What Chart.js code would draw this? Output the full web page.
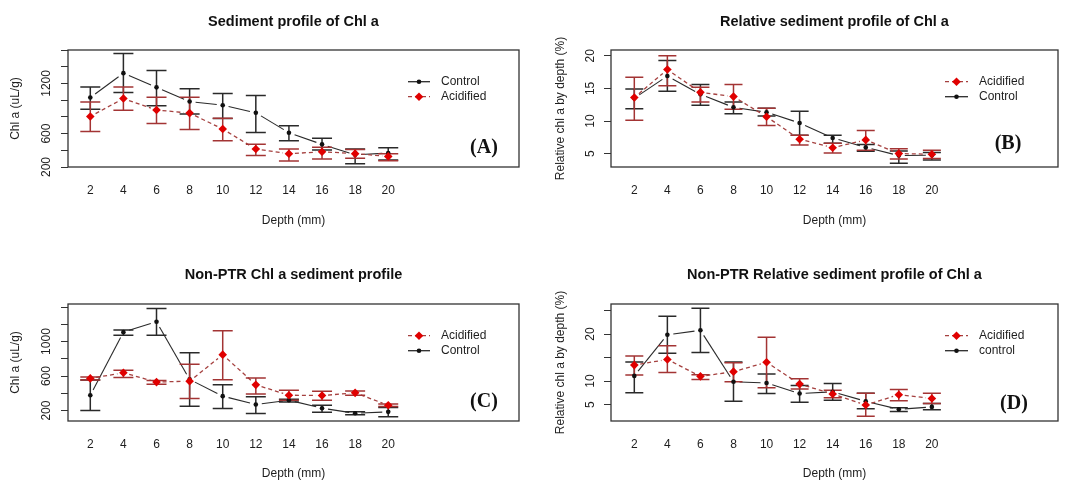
<!DOCTYPE html>
<html><head><meta charset="utf-8">
<script src="https://cdn.jsdelivr.net/npm/chart.js@4.4.1/dist/chart.umd.min.js"></script>
<style>
html,body{margin:0;padding:0;background:#fff;}
#wrap{position:relative;width:1067px;height:481px;overflow:hidden;background:#fff;}
canvas{position:absolute;}
</style></head><body>
<div id="wrap">
<canvas id="cA" width="533" height="240" style="left:0;top:0"></canvas>
<canvas id="cB" width="534" height="240" style="left:533px;top:0"></canvas>
<canvas id="cC" width="533" height="241" style="left:0;top:240px"></canvas>
<canvas id="cD" width="534" height="241" style="left:533px;top:240px"></canvas>
</div>
<script>
// ---------- data ----------
const depth = [2, 4, 6, 8, 10, 12, 14, 16, 18, 20];
const xTicks = [2, 4, 6, 8, 10, 12, 14, 16, 18, 20];

// (A) Sediment profile of Chl a
const ctrlA    = [1031, 1323, 1153, 983, 939, 849, 610, 471, 346, 367];
const ctrlA_hi = [1158, 1559, 1356, 1137, 1080, 1056, 695, 544, 415, 431];
const ctrlA_lo = [890, 1092, 934, 833, 780, 614, 513, 403, 240, 285];
const acidA    = [805, 1019, 882, 845, 654, 415, 358, 383, 360, 327];
const acidA_hi = [979, 1158, 1036, 1036, 784, 471, 415, 435, 410, 360];
const acidA_lo = [626, 878, 720, 650, 513, 338, 273, 297, 305, 275];
const yTicksA  = [200, 400, 600, 800, 1000, 1200, 1400, 1600];
const yLabelsA = [200, 600, 1200];

// (B) Relative sediment profile of Chl a
const ctrlB    = [13.5, 16.9, 14.1, 12.1, 11.35, 9.7, 7.4, 5.95, 4.7, 4.75];
const ctrlB_hi = [14.9, 19.3, 15.6, 12.9, 11.95, 11.5, 7.8, 6.4, 5.4, 5.15];
const ctrlB_lo = [11.9, 14.55, 12.4, 11.1, 10.75, 7.8, 6.6, 5.35, 3.5, 4.0];
const acidB    = [13.6, 17.9, 14.4, 13.75, 10.65, 7.2, 5.9, 7.1, 5.0, 4.9];
const acidB_hi = [16.7, 20.0, 15.2, 15.6, 11.95, 7.8, 6.6, 8.55, 5.75, 5.5];
const acidB_lo = [10.1, 15.4, 12.9, 11.8, 9.3, 6.3, 5.1, 5.5, 4.15, 4.25];
const yTicksB  = [5, 10, 15, 20];
const yLabelsB = [5, 10, 15, 20];

// (C) Non-PTR Chl a sediment profile
const ctrlC    = [378, 1109, 1229, 561, 367, 270, 320, 227, 169, 185];
const ctrlC_hi = [553, 1135, 1384, 871, 498, 359, 332, 262, 185, 235];
const ctrlC_lo = [200, 1074, 1074, 250, 223, 165, 300, 181, 150, 127];
const acidC    = [573, 638, 530, 541, 848, 498, 378, 374, 405, 262];
const acidC_hi = [588, 666, 549, 736, 1124, 576, 436, 424, 428, 277];
const acidC_lo = [553, 584, 506, 340, 556, 393, 320, 320, 378, 246];
const yTicksC  = [200, 400, 600, 800, 1000, 1200, 1400];
const yLabelsC = [200, 600, 1000];

// (D) Non-PTR Relative sediment profile of Chl a
const ctrlD    = [11.1, 19.85, 20.8, 9.85, 9.6, 7.35, 7.7, 5.7, 4.0, 4.5];
const ctrlD_hi = [14.05, 23.8, 25.5, 14.05, 11.5, 9.05, 9.5, 7.4, 4.3, 5.2];
const ctrlD_lo = [7.5, 15.9, 16.1, 5.7, 7.35, 5.5, 5.9, 4.1, 3.5, 3.9];
const acidD    = [13.4, 14.6, 11.0, 12.0, 14.0, 9.35, 7.25, 4.9, 7.1, 6.3];
const acidD_hi = [15.35, 17.5, 11.35, 13.9, 19.3, 10.5, 8.05, 7.4, 8.2, 7.4];
const acidD_lo = [11.3, 11.8, 10.35, 9.85, 8.6, 8.3, 6.45, 2.5, 5.8, 5.2];
const yTicksD  = [5, 10, 15, 20, 25];
const yLabelsD = [5, 10, 20];

// ---------- styles ----------
const FONT = "'Liberation Sans', Arial, sans-serif";
const TXT = '#1e1e1e';
const STY = {
  ctrl: {lineColor: '#2a2a2a', dash: [], barColor: '#2a2a2a', point: '#111111', pstyle: 'circle', prad: 2.3, lw: 1.1},
  acid: {lineColor: '#a5403f', dash: [4, 3], barColor: '#a33434', point: '#e00000', pstyle: 'rectRot', prad: 4.3, lw: 1.3}
};

const rdeco = {
  id: 'rdeco',
  beforeDatasetsDraw(chart, args, o) {
    const ctx = chart.ctx, ys = chart.scales.y, xs = chart.scales.x;
    ctx.save();
    o.series.forEach((s, si) => {
      const st = STY[s.kind];
      const meta = chart.getDatasetMeta(si);
      // type "b" lines (gaps around points)
      ctx.strokeStyle = st.lineColor; ctx.lineWidth = st.lw; ctx.setLineDash(st.dash);
      for (let i = 0; i < meta.data.length - 1; i++) {
        const p = meta.data[i], q = meta.data[i + 1];
        const dx = q.x - p.x, dy = q.y - p.y, len = Math.hypot(dx, dy);
        if (len < 2 * o.gap + 1) continue;
        const ux = dx / len, uy = dy / len;
        ctx.beginPath();
        ctx.moveTo(p.x + ux * o.gap, p.y + uy * o.gap);
        ctx.lineTo(q.x - ux * o.gap, q.y - uy * o.gap);
        ctx.stroke();
      }
      ctx.setLineDash([]);
      // error bars
      ctx.strokeStyle = st.barColor; ctx.lineWidth = 1.5;
      depth.forEach((d, i) => {
        const x = xs.getPixelForValue(d);
        const yh = ys.getPixelForValue(s.hi[i]), yl = ys.getPixelForValue(s.lo[i]);
        ctx.beginPath();
        ctx.moveTo(x, yh); ctx.lineTo(x, yl);
        ctx.moveTo(x - o.cap, yh); ctx.lineTo(x + o.cap, yh);
        ctx.moveTo(x - o.cap, yl); ctx.lineTo(x + o.cap, yl);
        ctx.stroke();
      });
    });
    ctx.restore();
  },
  afterDraw(chart, args, o) {
    const ctx = chart.ctx, a = chart.chartArea;
    ctx.save();
    // box
    ctx.strokeStyle = '#333'; ctx.lineWidth = 1.3;
    ctx.strokeRect(a.left, a.top, a.right - a.left, a.bottom - a.top);
    // legend
    o.legend.forEach((li, k) => {
      const st = STY[li.kind];
      const y = a.top + o.legY0 + k * o.legDy;
      ctx.strokeStyle = st.lineColor; ctx.lineWidth = 1.3; ctx.setLineDash(st.dash);
      ctx.beginPath(); ctx.moveTo(o.legX1, y); ctx.lineTo(o.legX2, y); ctx.stroke();
      ctx.setLineDash([]);
      const cx = (o.legX1 + o.legX2) / 2;
      ctx.fillStyle = st.point;
      ctx.beginPath();
      if (st.pstyle === 'circle') { ctx.arc(cx, y, st.prad, 0, Math.PI * 2); }
      else { const r = st.prad; ctx.moveTo(cx, y - r); ctx.lineTo(cx + r, y); ctx.lineTo(cx, y + r); ctx.lineTo(cx - r, y); ctx.closePath(); }
      ctx.fill();
      ctx.fillStyle = TXT; ctx.font = '12px ' + FONT; ctx.textAlign = 'left'; ctx.textBaseline = 'middle';
      ctx.fillText(li.label, o.legTx, y);
    });
    // panel label
    ctx.fillStyle = '#111'; ctx.font = "bold 20px 'Liberation Serif', 'Times New Roman', serif";
    ctx.textAlign = 'center'; ctx.textBaseline = 'middle';
    ctx.fillText(o.tag, o.tagX, a.top + o.tagY);
    ctx.restore();
  }
};

function makePanel(id, p) {
  const datasets = p.series.map(s => ({
    label: s.label,
    data: depth.map((d, i) => ({x: d, y: s.mean[i]})),
    showLine: false,
    pointStyle: STY[s.kind].pstyle,
    pointRadius: STY[s.kind].prad,
    pointBackgroundColor: STY[s.kind].point,
    pointBorderColor: STY[s.kind].point,
    pointBorderWidth: 0,
    borderColor: STY[s.kind].lineColor,
    order: s.kind === 'acid' ? 0 : 1
  }));
  const g = p.geo;
  new Chart(document.getElementById(id), {
    type: 'line',
    data: {datasets},
    plugins: [rdeco],
    options: {
      responsive: false, animation: false, devicePixelRatio: 1,
      layout: {padding: {left: 0, top: 0, right: g.padR, bottom: 0}},
      plugins: {
        legend: {display: false}, tooltip: {enabled: false},
        title: {display: true, text: p.title, fullSize: false, color: '#111',
          font: {family: FONT, size: 14.5, weight: 'bold', lineHeight: 1.2},
          padding: {top: g.tTop, bottom: g.tBot}},
        rdeco: {series: p.series, legend: p.legend, gap: 6, cap: g.cap,
          legX1: g.legX1, legX2: g.legX2, legTx: g.legTx, legY0: 31.7, legDy: 15,
          tag: p.tag, tagX: g.tagX, tagY: g.tagY}
      },
      scales: {
        x: {
          type: 'linear', min: g.xMin, max: g.xMax,
          grid: {display: false, drawTicks: false}, border: {display: false},
          afterBuildTicks: s => { s.ticks = xTicks.map(v => ({value: v})); },
          ticks: {autoSkip: false, maxRotation: 0, padding: g.xPad, color: TXT, font: {family: FONT, size: 12}},
          title: {display: true, text: 'Depth (mm)', color: TXT, font: {family: FONT, size: 12},
            padding: {top: 0, bottom: g.xTitlePad}},
          afterFit: s => { s.height = g.xH; }
        },
        y: {
          type: 'linear', min: p.yMin, max: p.yMax,
          grid: {display: true, drawOnChartArea: false, drawTicks: true, tickLength: 7, color: '#333', lineWidth: 1},
          border: {display: false},
          afterBuildTicks: s => { s.ticks = p.yTicks.map(v => ({value: v})); },
          ticks: {autoSkip: false, minRotation: 90, maxRotation: 90, crossAlign: 'center', padding: g.yPad,
            color: TXT, font: {family: FONT, size: 12},
            callback: v => p.yLabels.includes(v) ? String(v) : ''},
          title: {display: true, text: p.yTitle, color: TXT, font: {family: FONT, size: 12},
            padding: {top: g.yTitlePad, bottom: 0}},
          afterFit: s => { s.width = g.yW; }
        }
      }
    }
  });
}

const geoLeftTop  = {padR: 14, yW: 68, xH: 73, tTop: 13, tBot: 19.6, xPad: 16, xTitlePad: 12, yPad: 1.2, yTitlePad: 8,
  xMin: 0.653, xMax: 27.9, cap: 10, legX1: 408, legX2: 430, legTx: 441, tagX: 484, tagY: 98};
const geoRightTop = {padR: 9, yW: 78, xH: 73, tTop: 13, tBot: 19.6, xPad: 16, xTitlePad: 12, yPad: 6.3, yTitlePad: 20,
  xMin: 0.59, xMax: 27.63, cap: 9, legX1: 412, legX2: 435, legTx: 446, tagX: 475, tagY: 94};
const geoLeftBot  = Object.assign({}, geoLeftTop, {xH: 60, tTop: 26.3, tBot: 20.3, xPad: 16.5, xTitlePad: 0, tagY: 98});
const geoRightBot = Object.assign({}, geoRightTop, {xH: 60, tTop: 26.3, tBot: 20.3, xPad: 16.5, xTitlePad: 0, tagX: 481, tagY: 100});

makePanel('cA', {
  title: 'Sediment profile of Chl a', yTitle: 'Chl a (uL/g)', tag: '(A)',
  yMin: 200, yMax: 1600, yTicks: yTicksA, yLabels: yLabelsA, geo: geoLeftTop,
  series: [
    {label: 'Control', kind: 'ctrl', mean: ctrlA, hi: ctrlA_hi, lo: ctrlA_lo},
    {label: 'Acidified', kind: 'acid', mean: acidA, hi: acidA_hi, lo: acidA_lo}
  ],
  legend: [{label: 'Control', kind: 'ctrl'}, {label: 'Acidified', kind: 'acid'}]
});
makePanel('cB', {
  title: 'Relative sediment profile of Chl a', yTitle: 'Relative chl a by depth (%)', tag: '(B)',
  yMin: 2.94, yMax: 20.9, yTicks: yTicksB, yLabels: yLabelsB, geo: geoRightTop,
  series: [
    {label: 'Control', kind: 'ctrl', mean: ctrlB, hi: ctrlB_hi, lo: ctrlB_lo},
    {label: 'Acidified', kind: 'acid', mean: acidB, hi: acidB_hi, lo: acidB_lo}
  ],
  legend: [{label: 'Acidified', kind: 'acid'}, {label: 'Control', kind: 'ctrl'}]
});
makePanel('cC', {
  title: 'Non-PTR Chl a sediment profile', yTitle: 'Chl a (uL/g)', tag: '(C)',
  yMin: 79, yMax: 1435, yTicks: yTicksC, yLabels: yLabelsC, geo: geoLeftBot,
  series: [
    {label: 'Control', kind: 'ctrl', mean: ctrlC, hi: ctrlC_hi, lo: ctrlC_lo},
    {label: 'Acidified', kind: 'acid', mean: acidC, hi: acidC_hi, lo: acidC_lo}
  ],
  legend: [{label: 'Acidified', kind: 'acid'}, {label: 'Control', kind: 'ctrl'}]
});
makePanel('cD', {
  title: 'Non-PTR Relative sediment profile of Chl a', yTitle: 'Relative chl a by depth (%)', tag: '(D)',
  yMin: 1.5, yMax: 26.4, yTicks: yTicksD, yLabels: yLabelsD, geo: geoRightBot,
  series: [
    {label: 'control', kind: 'ctrl', mean: ctrlD, hi: ctrlD_hi, lo: ctrlD_lo},
    {label: 'Acidified', kind: 'acid', mean: acidD, hi: acidD_hi, lo: acidD_lo}
  ],
  legend: [{label: 'Acidified', kind: 'acid'}, {label: 'control', kind: 'ctrl'}]
});
</script>
</body></html>
